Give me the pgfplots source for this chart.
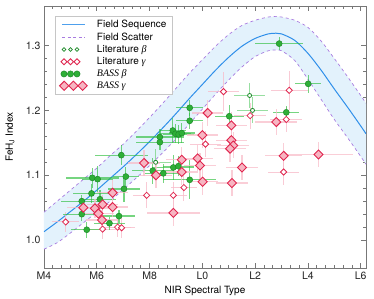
\documentclass[border=0pt]{standalone}
\usepackage{pgfplots}
\pgfplotsset{compat=1.18}
\usepackage{fontspec}
\setmainfont{TeX Gyre Heros}
\newfontfamily\serif{Liberation Serif}
\definecolor{seqblue}{HTML}{2F8FEA}
\definecolor{bandfill}{HTML}{E3F2FC}
\definecolor{scatpurple}{HTML}{A87BE0}
\definecolor{bgreen}{HTML}{2EAF37}
\definecolor{bgreenedge}{HTML}{1E8A2A}
\definecolor{ebgreen}{HTML}{2DBE3C}
\definecolor{litgreen}{HTML}{7ED68A}
\definecolor{gred}{HTML}{E0264F}
\definecolor{gpink}{HTML}{F7B5C2}
\definecolor{ebpink}{HTML}{F8BDCA}
\definecolor{axgray}{HTML}{777777}
\begin{document}
\begin{tikzpicture}
\path[use as bounding box] (-44pt,-31pt) rectangle (330pt,268pt);
\begin{axis}[
  at={(0,0)}, anchor=south west, scale only axis,
  width=322pt, height=262pt,
  xmin=4, xmax=16.2, ymin=0.957, ymax=1.361,
  xtick={4,6,8,10,12,14,16}, xticklabels={M4,M6,M8,L0,L2,L4,L6},
  minor x tick num=5,
  ytick={1.0,1.1,1.2,1.3}, yticklabels={1.0,1.1,1.2,1.3},
  minor y tick num=4,
  axis line style={axgray, line width=0.7pt},
  tick style={axgray, line width=0.7pt},
  major tick length=5pt, minor tick length=3pt,
  tick label style={font=\fontsize{10.5}{12}\selectfont, text=black!85},
  every axis x label/.style={at={(axis description cs:0.5,0)}, anchor=north, yshift=-14pt, font=\fontsize{10}{12}\selectfont},
  every axis y label/.style={at={(axis description cs:0,0.5)}, xshift=-34pt, rotate=90, anchor=center, font=\fontsize{10}{12}\selectfont},
  xlabel={NIR Spectral Type},
  ylabel={FeH\textsubscript{J} Index},
  clip=true,
  legend cell align=left,
  legend style={at={(axis description cs:0.034,0.962)}, anchor=north west,
    draw=gray!45, fill=white, font=\fontsize{10}{12}\selectfont,
    row sep=0.5pt, inner xsep=4pt, inner ysep=2.5pt,
    nodes={inner sep=1.5pt}},
  error bars/x dir=both, error bars/x explicit,
  error bars/y dir=both, error bars/y explicit,
  error bars/error mark=none,
]
% field scatter band
\addplot[fill=bandfill, draw=none, forget plot] coordinates {
(4.0,1.043)(4.5,1.060)(5.0,1.077)(5.5,1.094)(6.0,1.111)(6.5,1.130)(7.0,1.148)(7.5,1.168)(8.0,1.189)(8.5,1.211)(9.0,1.234)(9.5,1.257)(10.0,1.278)(10.5,1.299)(11.0,1.317)(11.5,1.331)(12.0,1.339)(12.5,1.344)(12.8,1.345)(13.0,1.344)(13.5,1.339)(14.0,1.328)(14.5,1.307)(15.0,1.280)(15.5,1.252)(16.0,1.223)(16.2,1.211)
(16.2,1.117)(16.0,1.129)(15.5,1.158)(15.0,1.186)(14.5,1.217)(14.0,1.248)(13.5,1.277)(13.0,1.292)(12.8,1.293)(12.5,1.292)(12.0,1.283)(11.5,1.267)(11.0,1.247)(10.5,1.225)(10.0,1.202)(9.5,1.179)(9.0,1.156)(8.5,1.135)(8.0,1.115)(7.5,1.096)(7.0,1.078)(6.5,1.060)(6.0,1.043)(5.5,1.027)(5.0,1.011)(4.5,0.996)(4.0,0.986)
} -- cycle;
\addplot[scatpurple, dashed, line width=0.7pt, smooth, forget plot] coordinates {
(4.0,1.043)(4.5,1.060)(5.0,1.077)(5.5,1.094)(6.0,1.111)(6.5,1.130)(7.0,1.148)(7.5,1.168)(8.0,1.189)(8.5,1.211)(9.0,1.234)(9.5,1.257)(10.0,1.278)(10.5,1.299)(11.0,1.317)(11.5,1.331)(12.0,1.339)(12.5,1.344)(12.8,1.345)(13.0,1.344)(13.5,1.339)(14.0,1.328)(14.5,1.307)(15.0,1.280)(15.5,1.252)(16.0,1.223)(16.2,1.211)};
\addplot[scatpurple, dashed, line width=0.7pt, smooth, forget plot] coordinates {
(4.0,0.986)(4.5,0.996)(5.0,1.011)(5.5,1.027)(6.0,1.043)(6.5,1.060)(7.0,1.078)(7.5,1.096)(8.0,1.115)(8.5,1.135)(9.0,1.156)(9.5,1.179)(10.0,1.202)(10.5,1.225)(11.0,1.247)(11.5,1.267)(12.0,1.283)(12.5,1.292)(12.8,1.293)(13.0,1.292)(13.5,1.277)(14.0,1.248)(14.5,1.217)(15.0,1.186)(15.5,1.158)(16.0,1.129)(16.2,1.117)};
\addplot[seqblue, line width=1pt, smooth, forget plot] coordinates {
(4.0,1.013)(4.5,1.028)(5.0,1.044)(5.5,1.060)(6.0,1.077)(6.5,1.095)(7.0,1.113)(7.5,1.132)(8.0,1.152)(8.5,1.173)(9.0,1.195)(9.5,1.218)(10.0,1.240)(10.5,1.262)(11.0,1.282)(11.5,1.299)(12.0,1.311)(12.5,1.318)(12.8,1.319)(13.0,1.318)(13.5,1.308)(14.0,1.288)(14.5,1.262)(15.0,1.233)(15.5,1.205)(16.0,1.176)(16.2,1.164)};
% Literature gamma
\addplot[only marks, mark=square*, mark size=2.2pt, mark options={rotate=45, fill=white, draw=gred, line width=0.8pt},
  error bars/error bar style={ebpink, line width=1pt, opacity=0.8}, forget plot] coordinates {
(4.82,1.028) +- (0.5,0.015)
(6.22,1.017) +- (0.5,0.015)
(6.79,1.020) +- (0.5,0.015)
(6.94,1.019) +- (0.5,0.015)
(7.89,1.069) +- (0.5,0.02)
(8.90,1.069) +- (0.5,0.02)
(9.30,1.081) +- (0.5,0.02)
(10.12,1.148) +- (0.6,0.02)
(10.80,1.229) +- (0.6,0.03)
(11.81,1.192) +- (0.6,0.02)
(13.18,1.186) +- (0.6,0.02)
(13.29,1.231) +- (0.7,0.03)
(13.08,1.105) +- (0.6,0.02)
};
% Literature beta
\addplot[only marks, mark=*, mark size=2pt, mark options={fill=white, draw=bgreenedge, line width=0.8pt},
  error bars/error bar style={litgreen, line width=1pt, opacity=0.8}, forget plot] coordinates {
(8.23,1.120) +- (0.6,0.02)
(11.79,1.223) +- (0.6,0.02)
(11.90,1.200) +- (0.6,0.02)
};
% BASS beta
\addplot[only marks, mark=*, mark size=3pt, mark options={fill=bgreen, draw=bgreenedge, line width=0.5pt},
  error bars/error bar style={ebgreen, line width=1.3pt, opacity=0.65}, forget plot] coordinates {
(5.62,1.016) +- (0.6,0.012)
(5.43,1.040) +- (0.7,0.010)
(5.43,1.060) +- (0.8,0.010)
(5.80,1.072) +- (0.7,0.015)
(5.83,1.096) +- (1.0,0.015)
(6.03,1.094) +- (0.6,0.020)
(6.12,1.063) +- (0.6,0.015)
(6.48,1.026) +- (0.6,0.010)
(6.84,1.037) +- (0.6,0.010)
(7.03,1.079) +- (0.6,0.020)
(7.10,1.098) +- (0.5,0.015)
(6.93,1.131) +- (1.0,0.015)
(8.12,1.107) +- (0.8,0.020)
(8.52,1.103) +- (0.7,0.015)
(8.90,1.112) +- (0.8,0.020)
(9.09,1.114) +- (0.6,0.015)
(8.39,1.159) +- (0.9,0.012)
(8.39,1.151) +- (0.9,0.012)
(8.88,1.169) +- (0.5,0.020)
(8.98,1.164) +- (0.6,0.015)
(9.10,1.163) +- (0.6,0.015)
(9.22,1.165) +- (0.5,0.015)
(9.52,1.204) +- (0.5,0.012)
(9.52,1.184) +- (0.5,0.012)
(9.52,1.093) +- (1.0,0.030)
(11.02,1.191) +- (0.55,0.017)
(12.91,1.303) +- (0.9,0.010)
(13.18,1.197) +- (0.5,0.010)
(14.01,1.241) +- (0.5,0.014)
};
% BASS gamma
\addplot[only marks, mark=square*, mark size=3.2pt, mark options={rotate=45, fill=gpink, draw=gred, line width=0.9pt},
  error bars/error bar style={ebpink, line width=1.3pt, opacity=0.75}, forget plot] coordinates {
(5.49,1.050) +- (0.6,0.015)
(5.93,1.049) +- (0.6,0.015)
(6.06,1.041) +- (0.6,0.015)
(6.20,1.031) +- (0.6,0.015)
(6.22,1.055) +- (0.6,0.015)
(6.60,1.051) +- (0.6,0.015)
(6.60,1.073) +- (0.6,0.020)
(7.79,1.119) +- (0.6,0.020)
(8.24,1.100) +- (0.6,0.020)
(8.90,1.042) +- (1.0,0.020)
(9.22,1.124) +- (0.6,0.020)
(9.22,1.105) +- (0.6,0.020)
(9.82,1.126) +- (0.6,0.020)
(9.91,1.115) +- (0.6,0.020)
(10.01,1.090) +- (0.6,0.020)
(10.00,1.162) +- (0.6,0.020)
(10.20,1.196) +- (0.6,0.020)
(11.10,1.177) +- (0.6,0.020)
(11.10,1.154) +- (0.6,0.020)
(11.17,1.146) +- (0.6,0.020)
(11.05,1.141) +- (0.6,0.020)
(11.12,1.088) +- (0.6,0.020)
(11.50,1.112) +- (0.6,0.020)
(12.80,1.182) +- (0.8,0.020)
(13.08,1.130) +- (0.7,0.020)
(14.40,1.132) +- (1.3,0.020)
};
% legend
\addlegendimage{legend image code/.code={\path[draw=none,fill=none] (-2pt,-3pt) rectangle (33pt,3pt); \draw[seqblue!85, line width=1.3pt] (0pt,0pt)--(23pt,0pt);}}
\addlegendentry{Field Sequence}
\addlegendimage{legend image code/.code={\path[draw=none,fill=none] (-2pt,-3pt) rectangle (33pt,3pt); \draw[scatpurple, line width=0.9pt, dash pattern=on 3pt off 2.5pt] (0pt,0pt)--(23pt,0pt);}}
\addlegendentry{Field Scatter}
\addlegendimage{legend image code/.code={\path[draw=none,fill=none] (-2pt,-3pt) rectangle (33pt,3pt);
  \foreach \xx in {1.5,8,14.5} {\draw[bgreenedge, line width=0.8pt, fill=white] (\xx pt,0pt) circle (1.9pt);}}}
\addlegendentry{Literature {\serif\itshape β}}
\addlegendimage{legend image code/.code={\path[draw=none,fill=none] (-2pt,-3pt) rectangle (33pt,3pt);
  \foreach \xx in {1.5,8,14.5} {\draw[gred, line width=0.8pt, fill=white] (\xx pt,3pt) -- ++(-3pt,-3pt) -- ++(3pt,-3pt) -- ++(3pt,3pt) -- cycle;}}}
\addlegendentry{Literature {\serif\itshape γ}}
\addlegendimage{legend image code/.code={\path[draw=none,fill=none] (-2pt,-4pt) rectangle (33pt,4pt);
  \foreach \xx in {1.5,8,14.5} {\draw[bgreenedge, line width=0.5pt, fill=bgreen] (\xx pt,0pt) circle (3.1pt);}}}
\addlegendentry{{\serif\itshape BASS β}}
\addlegendimage{legend image code/.code={\path[draw=none,fill=none] (-2pt,-5pt) rectangle (33pt,5pt);
  \foreach \xx in {1.7,10.9,20.1} {\draw[gred, line width=0.9pt, fill=gpink] (\xx pt,4.6pt) -- ++(-4.6pt,-4.6pt) -- ++(4.6pt,-4.6pt) -- ++(4.6pt,4.6pt) -- cycle;}}}
\addlegendentry{{\serif\itshape BASS γ}}
\end{axis}
\end{tikzpicture}
\end{document}
